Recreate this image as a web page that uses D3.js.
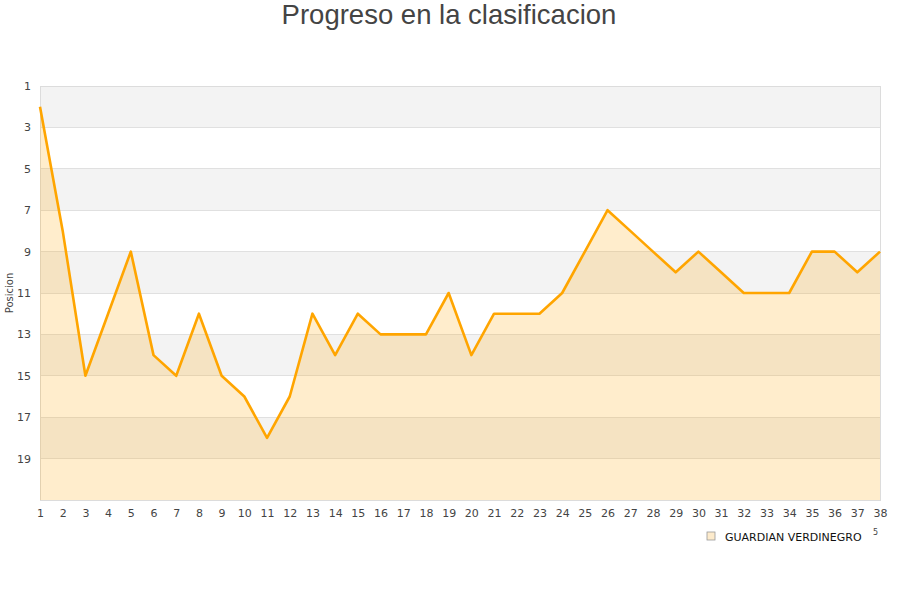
<!DOCTYPE html>
<html>
<head>
<meta charset="utf-8">
<script src="https://cdn.jsdelivr.net/npm/d3@7"></script>
<style>
  body { margin: 0; background: #fff; }
  svg { display: block; }
</style>
</head>
<body>
<div id="chart"></div>
<script>
// Datos: jornada → posición
const jornadas = d3.range(1, 39);
const posiciones = [2, 8, 15, 12, 9, 14, 15, 12, 15, 16, 18, 16, 12, 14, 12, 13, 13, 13, 11, 14,
                    12, 12, 12, 11, 9, 7, 8, 9, 10, 9, 10, 11, 11, 11, 9, 9, 10, 9];
const yTicks = [1, 3, 5, 7, 9, 11, 13, 15, 17, 19];
const bandas = [[1, 3], [5, 7], [9, 11], [13, 15], [17, 19]];
const equipo = 'GUARDIAN VERDINEGRO';

const W = 900, H = 600;
const M = { left: 40, right: 880, top: 86, bottom: 500 };
const FONT = '"DejaVu Sans", Verdana, sans-serif';

const svg = d3.select('#chart').append('svg')
  .attr('width', W).attr('height', H)
  .attr('viewBox', `0 0 ${W} ${H}`);

const x = d3.scaleLinear().domain([1, 38]).range([M.left, M.right]);
const y = d3.scaleLinear().domain([1, 21]).range([M.top, M.bottom]);

// Bandas alternas
svg.append('g').selectAll('rect').data(bandas).join('rect')
  .attr('x', M.left).attr('width', M.right - M.left)
  .attr('y', d => y(d[0])).attr('height', d => y(d[1]) - y(d[0]))
  .attr('fill', '#f3f3f3');

// Líneas de rejilla
svg.append('g').selectAll('line').data(yTicks.concat([21])).join('line')
  .attr('x1', M.left).attr('x2', M.right)
  .attr('y1', d => y(d)).attr('y2', d => y(d))
  .attr('stroke', '#e0e0e0').attr('stroke-width', 1)
  .attr('shape-rendering', 'crispEdges');

// Marco del área
svg.append('rect')
  .attr('x', M.left).attr('y', M.top)
  .attr('width', M.right - M.left).attr('height', M.bottom - M.top)
  .attr('fill', 'none').attr('stroke', '#dcdcdc')
  .attr('shape-rendering', 'crispEdges');

const datos = jornadas.map((j, i) => ({ j, p: posiciones[i] }));

// Área
svg.append('path').datum(datos)
  .attr('d', d3.area().x(d => x(d.j)).y0(y(21)).y1(d => y(d.p)))
  .attr('fill', '#ffa500').attr('fill-opacity', 0.2);

// Línea
svg.append('path').datum(datos)
  .attr('d', d3.line().x(d => x(d.j)).y(d => y(d.p)))
  .attr('fill', 'none').attr('stroke', '#ffa500')
  .attr('stroke-width', 2.6).attr('stroke-linejoin', 'round');

// Eje Y
const ejeY = svg.append('g')
  .attr('transform', `translate(${M.left},0)`)
  .call(d3.axisLeft(y).tickValues(yTicks).tickSize(0).tickPadding(9));
ejeY.select('.domain').remove();
ejeY.selectAll('text')
  .attr('font-family', FONT).attr('font-size', 11).attr('fill', '#444');

// Eje X
const ejeX = svg.append('g')
  .attr('transform', `translate(0,${M.bottom})`)
  .call(d3.axisBottom(x).tickValues(jornadas).tickFormat(d3.format('d')).tickSize(0).tickPadding(9));
ejeX.select('.domain').remove();
ejeX.selectAll('text')
  .attr('font-family', FONT).attr('font-size', 11).attr('fill', '#444');

// Título del eje Y
svg.append('text')
  .attr('transform', `translate(13,${(M.top + M.bottom) / 2}) rotate(-90)`)
  .attr('text-anchor', 'middle')
  .attr('font-family', FONT).attr('font-size', 10).attr('fill', '#444')
  .text('Posicion');

// Título
svg.append('text')
  .attr('x', W / 2 - 1).attr('y', 24)
  .attr('text-anchor', 'middle')
  .attr('font-family', '"Liberation Sans", Arial, sans-serif')
  .attr('font-size', 27.5).attr('fill', '#444')
  .text('Progreso en la clasificacion');

// Leyenda
const ley = svg.append('g').attr('transform', 'translate(707,532)');
ley.append('rect')
  .attr('x', 0).attr('y', 0).attr('width', 8).attr('height', 8)
  .attr('fill', '#fdebcc').attr('stroke', '#999').attr('stroke-width', 0.8);
ley.append('text')
  .attr('x', 18).attr('y', 8.5)
  .attr('font-family', FONT).attr('font-size', 11).attr('fill', '#111')
  .text(equipo);
svg.append('text')
  .attr('x', 873).attr('y', 535)
  .attr('font-family', FONT).attr('font-size', 8).attr('fill', '#444')
  .text('5');
</script>
</body>
</html>
